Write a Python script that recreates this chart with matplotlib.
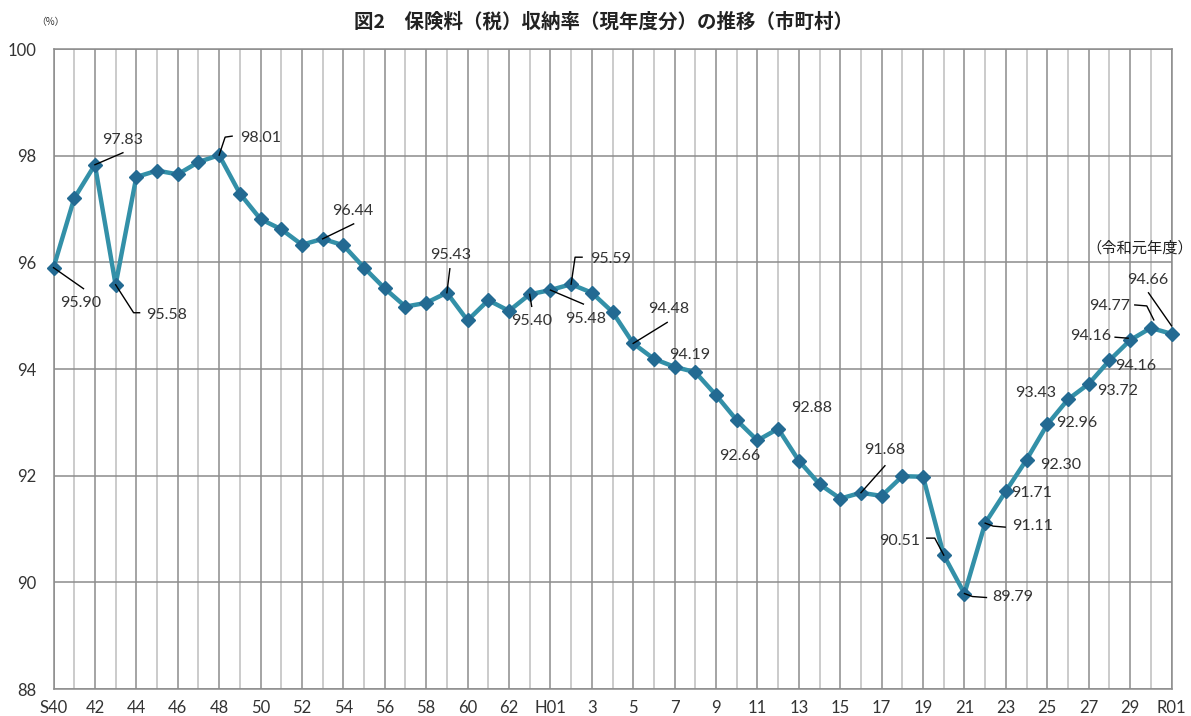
import matplotlib
matplotlib.use('Agg')
import matplotlib.pyplot as plt
import numpy as np

# fiscal years S40 .. R01 (one point per year)
years = (['S%d' % y for y in range(40, 64)] + ['H%02d' % y for y in range(1, 31)]
         + ['R01'])
rates = [95.90, 97.20, 97.83, 95.58, 97.60, 97.72, 97.65, 97.88, 98.01, 97.29,
         96.81, 96.62, 96.33, 96.44, 96.32, 95.90, 95.51, 95.17, 95.24, 95.43,
         94.91, 95.29, 95.09, 95.40, 95.48, 95.59, 95.43, 95.07, 94.48, 94.19,
         94.04, 93.94, 93.51, 93.04, 92.66, 92.88, 92.28, 91.84, 91.57, 91.68,
         91.62, 91.99, 91.98, 90.51, 89.79, 91.11, 91.71, 92.30, 92.96, 93.43,
         93.72, 94.16, 94.54, 94.77, 94.66]
tick_labels = ['S40', '42', '44', '46', '48', '50', '52', '54', '56', '58',
               '60', '62', 'H01', '3', '5', '7', '9', '11', '13', '15', '17',
               '19', '21', '23', '25', '27', '29', 'R01']

# labelled points: index -> text as printed on the original chart
label_text = {0: '95.90', 2: '97.83', 3: '95.58', 8: '98.01', 13: '96.44',
              19: '95.43', 23: '95.40', 24: '95.48', 25: '95.59', 28: '94.48',
              29: '94.19', 34: '92.66', 35: '92.88', 39: '91.68', 43: '90.51',
              44: '89.79', 45: '91.11', 46: '91.71', 47: '92.30', 48: '92.96',
              49: '93.43', 50: '93.72', 51: '94.16', 52: '94.16', 53: '94.77',
              54: '94.66'}

# layout: text offset from point (pixels, y up) and leader polyline offsets
text_off = {0: (27, -35), 2: (28, 25), 3: (51, -30), 8: (41, 17),
            13: (30, 28), 19: (4, 38), 23: (2, -27), 24: (35, -29),
            25: (40, 25), 28: (35, 34), 29: (36, 4), 34: (-18, -16),
            35: (33, 21), 39: (24, 43), 43: (-44, 14), 44: (48, -3),
            45: (47, -3), 46: (26, -2), 47: (34, -5), 48: (29, 1),
            49: (-32, 6), 50: (29, -7), 51: (26, -6), 52: (-39, 4),
            53: (-41, 22), 54: (-24, 54)}
leaders = {0: [(0, 0), (30, -21)], 2: [(0, 0), (28, 12)],
           3: [(0, 0), (18, -28), (24, -28)], 8: [(0, 0), (6, 18), (13, 19)],
           13: [(0, 0), (31, 15)], 19: [(0, 0), (3, 24)],
           23: [(0, 0), (2, -12)], 24: [(0, 0), (33, -14)],
           25: [(0, 0), (4, 27), (11, 27)], 28: [(0, 0), (34, 21)],
           39: [(0, 0), (24, 27)], 43: [(0, 0), (-9, 17), (-17, 17)],
           44: [(0, 0), (8, -3), (22, -4)], 45: [(0, 0), (8, -3), (20, -4)],
           52: [(-2, 2), (-15, 3)], 53: [(3, 8), (-4, 22), (-16, 23)],
           54: [(0, 8), (-23, 41)]}

W, H = 1191, 716
fig = plt.figure(figsize=(W / 100, H / 100), dpi=100)
ax = fig.add_axes([53.5 / W, 1 - 689 / H, (1171.5 - 53.5) / W, (689 - 49) / H])

num_font = ['Lato', 'DejaVu Sans']
jp_font = ['Noto Sans CJK JP', 'DejaVu Sans']

x = np.arange(len(years))
ax.set_xlim(0, len(years) - 1)
ax.set_ylim(88, 100)

# grid: every year, darker on labelled years
for i in x:
    ax.axvline(i, color='#8c8c8c' if i % 2 == 0 else '#bdbdbd', lw=1.1, zorder=0)
ax.set_yticks(np.arange(88, 101, 2))
ax.grid(axis='y', color='#8c8c8c', lw=1.1, zorder=0)
for s in ax.spines.values():
    s.set_color('#8c8c8c')
    s.set_linewidth(1.1)

ax.set_xticks(x[::2])
ax.set_xticklabels(tick_labels)
ax.tick_params(length=0, labelsize=12, colors='#333333')
ax.tick_params(axis='x', pad=8)
ax.tick_params(axis='y', pad=12)
for t in ax.get_xticklabels() + ax.get_yticklabels():
    t.set_family(num_font)

ax.plot(x, rates, color='#3390a8', lw=3.2, marker='D', ms=7,
        mfc='#236a92', mec='#236a92', zorder=3, clip_on=False)

# data labels and leader lines
for i, txt in label_text.items():
    px, py = ax.transData.transform((i, rates[i]))
    dx, dy = text_off[i]
    ax.annotate(txt, xy=(i, rates[i]), xytext=(dx, dy),
                textcoords='offset pixels', ha='center', va='center',
                fontsize=11.5, family=num_font, color='#333333', zorder=5)
    if i in leaders:
        pts = np.array([(px + ox, py + oy) for ox, oy in leaders[i]])
        d = ax.transData.inverted().transform(pts)
        ax.plot(d[:, 0], d[:, 1], color='black', lw=1, zorder=4, clip_on=False)

ax.annotate('（令和元年度）', xy=(x[-1], rates[-1]), xytext=(-32, 86),
            textcoords='offset pixels', ha='center', va='center',
            fontsize=11, family=jp_font, color='#222222')

fig.text(603 / W, 1 - 22 / H, '図2　保険料（税）収納率（現年度分）の推移（市町村）',
         ha='center', va='center', fontsize=14, fontweight='bold',
         family=jp_font, color='#222222')
fig.text(50 / W, 1 - 22 / H, '（%）', ha='center', va='center', fontsize=7,
         family=jp_font, color='#333333')

fig.savefig('out.png', dpi=100)
